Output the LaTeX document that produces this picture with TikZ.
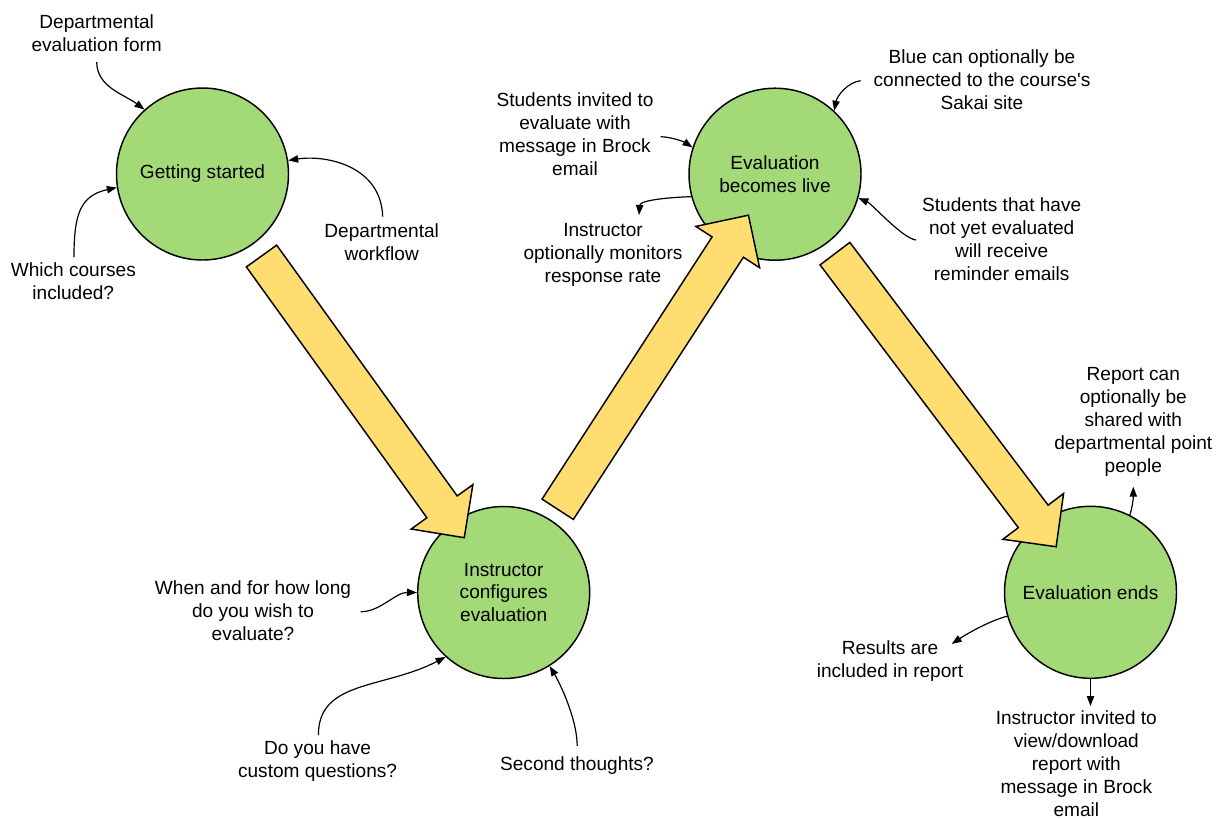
\documentclass[tikz,border=0pt]{standalone}
\usepackage{fontspec}
\setmainfont{Liberation Sans}
\usetikzlibrary{arrows.meta,calc}
\definecolor{stagegreen}{RGB}{163,217,119}
\definecolor{flowyellow}{RGB}{255,221,113}
\newcommand{\bigarrow}[2]{%
  \coordinate (#1neck) at ($(#2)!28.5pt!(#1)$);
  \draw[flow] ($(#1)!14pt!90:(#2)$) -- ($(#1neck)!14pt!90:(#2)$) -- ($(#1neck)!28.5pt!90:(#2)$) -- (#2)
    -- ($(#1neck)!28.5pt!-90:(#2)$) -- ($(#1neck)!14pt!-90:(#2)$) -- ($(#1)!14pt!-90:(#2)$) -- cycle;}

\begin{document}
\begin{tikzpicture}[x=0.75pt, y=-0.75pt,
    stage/.style={circle, draw, line width=1.1pt, fill=stagegreen, minimum size=129pt, inner sep=0pt, align=center, font={\fontsize{14.3}{17.2}\selectfont}},
    remark/.style={align=center, inner sep=0pt, font={\fontsize{14.3}{17.2}\selectfont}},
    link/.style={-{Triangle[length=7.5pt,width=5.5pt]}, line width=0.9pt},
    flow/.style={draw, fill=flowyellow, line width=1.1pt}]
    \useasboundingbox (0,0) rectangle (1220,819);

    \node[stage] (gs) at (202.5,174) {Getting started};
    \node[stage] (ic) at (503.7,592.5) {Instructor\\configures\\evaluation};
    \node[stage] (el) at (775,174.2) {Evaluation\\becomes live};
    \node[stage] (ee) at (1090.5,592.3) {Evaluation ends};

    \node[remark] (dform) at (96.7,33.5) {Departmental\\evaluation form};
    \node[remark] (which) at (73.3,281.5) {Which courses\\included?};
    \node[remark] (dwork) at (381.7,242.5) {Departmental\\workflow};
    \node[remark] (when) at (253,611) {When and for how long\\do you wish to\\evaluate?};
    \node[remark] (custom) at (317.6,761.5) {Do you have\\custom questions?};
    \node[remark] (second) at (577,766) {Second thoughts?};
    \node[remark] (blue) at (982,80) {Blue can optionally be\\connected to the course\textquotesingle s\\Sakai site};
    \node[remark] (invited) at (575,134) {Students invited to\\evaluate with\\message in Brock\\email};
    \node[remark] (monitor) at (603,255) {Instructor\\optionally monitors\\response rate};
    \node[remark] (remind) at (1001.7,239.5) {Students that have\\not yet evaluated\\will receive\\reminder emails};
    \node[remark] (share) at (1133.3,422) {Report can\\optionally be\\shared with\\departmental point\\people};
    \node[remark] (results) at (890,661) {Results are\\included in report};
    \node[remark] (view) at (1076.3,763.5) {Instructor invited to\\view/download\\report with\\message in Brock\\email};

    \draw[link] ($(dform)+(0,28.5)$) .. controls +(0,25) and +(-20,-15) .. (gs.132);
    \draw[link] ($(which)+(0.7,-24.5)$) .. controls +(0,-42) and +(-37,8) .. (gs.189);
    \draw[link] ($(dwork)+(1,-25.8)$) .. controls +(-1.7,-51.7) and +(36.7,-5.7) .. (gs.9);
    \draw[link] ($(when)+(107.7,0.7)$) .. controls +(19.3,0.3) and +(-21.3,-0.3) .. (ic.180);
    \draw[link] ($(custom)+(0.8,-26.5)$) .. controls +(0,-55) and +(-62.3,32.2) .. (ic.228);
    \draw[link] ($(second)+(0.2,-20)$) .. controls +(0,-28) and +(9,15) .. (ic.-58);
    \draw[link] ($(blue)+(-121.3,0.7)$) .. controls +(-12.7,1.3) and +(3,-15) .. (el.47);
    \draw[link] ($(invited)+(85.7,2.7)$) .. controls +(11.3,0.3) and +(-8,-5.3) .. (el.162);
    \draw[link] (el.195) .. controls +(-21,0.7) and +(1,-15) .. ($(monitor)+(36,-40)$);
    \draw[link] ($(remind)+(-85.8,0.5)$) .. controls +(-13.9,-2) and +(13.8,5.9) .. (el.-16);
    \draw[link] (ee.63) .. controls +(2,-6.3) and +(0,13.3) .. ($(share)+(0,64.7)$);
    \draw[link] (ee.196) .. controls +(-16.7,4.3) and +(16.3,-11) .. ($(results)+(61.7,-17)$);
    \draw[link] (ee.south) -- ++(0,27);

    \coordinate (gsout) at ($(gs)!0.196!(ic)$);
    \coordinate (icin) at ($(gs)!0.869!(ic)$);
    \coordinate (icout) at ($(ic)!0.199!(el)$);
    \coordinate (elin) at ($(ic)!0.902!(el)$);
    \coordinate (elout) at ($(el)!0.19!(ee)$);
    \coordinate (eein) at ($(el)!0.891!(ee)$);
    \bigarrow{gsout}{icin}
    \bigarrow{icout}{elin}
    \bigarrow{elout}{eein}
\end{tikzpicture}
\end{document}
